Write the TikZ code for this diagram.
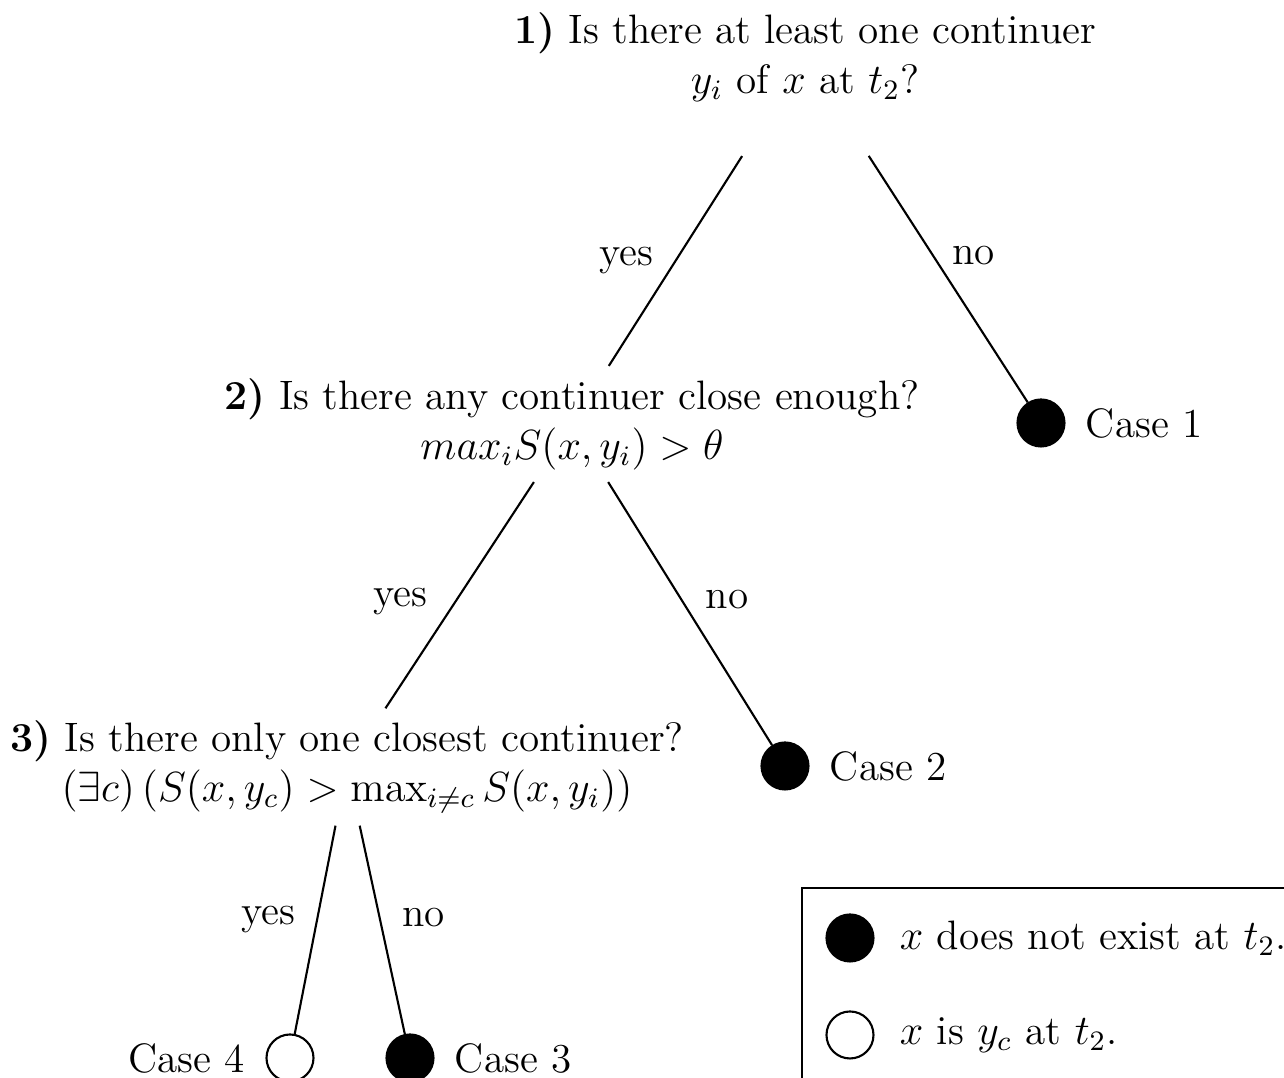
\documentclass[tikz,border=0pt]{standalone}
\usetikzlibrary{positioning, calc}
\begin{document}
\begin{tikzpicture}[
    font=\fontsize{11.7}{14.2}\selectfont,
    question/.style={align=center},
    endpt/.style={circle, draw, semithick, minimum size=0.47cm, inner sep=0pt},
    gone/.style={endpt, fill=black},
    kept/.style={endpt, fill=white},
    branch/.style={semithick},
  ]
  \clip (0,0) rectangle (12.84,10.78);
  % Questions
  \node[question] (q1) at (8.05,10.21) {\textbf{1)} Is there at least one continuer\\ $y_i$ of $x$ at $t_2$?};
  \node[question] (q2) at (5.72,6.54) {\textbf{2)} Is there any continuer close enough?\\ $max_i S(x,y_i) > \theta$};
  \node[question] (q3) at (3.47,3.11) {\textbf{3)} Is there only one closest continuer?\\ $(\exists c)\,(S(x,y_c) > \max_{i\neq c} S(x,y_i))$};
  % Cases
  \node[gone] (c1) at (10.41,6.55) {};
  \node[right=0.08cm of c1] (c1txt) {Case 1};
  \node[gone] (c2) at (7.85,3.12) {};
  \node[right=0.08cm of c2] (c2txt) {Case 2};
  \node[gone] (c3) at (4.10,0.20) {};
  \node[right=0.08cm of c3] (c3txt) {Case 3};
  \node[kept] (c4) at (2.90,0.20) {};
  \node[left=0.08cm of c4] (c4txt) {Case 4};
  % Branches
  \draw[branch, shorten <=0.5cm] (q1) -- (q2) node[pos=0.58, left=0.1cm] {yes};
  \draw[branch, shorten <=0.5cm] (q1) -- (c1) node[pos=0.49, right=0.07cm] {no};
  \draw[branch] (q2) -- (q3) node[pos=0.53, left=0.15cm] {yes};
  \draw[branch] (q2) -- (c2) node[pos=0.445, right=0.12cm] {no};
  \draw[branch] (q3) -- (c4) node[pos=0.45, left=0.09cm] {yes};
  \draw[branch] (q3) -- (c3) node[pos=0.44, right=0.1cm] {no};
  % Legend
  \draw[thick] (8.02,-0.5) rectangle (13.5,1.90);
  \node[gone] (lg1) at (8.50,1.40) {};
  \node[right=0.13cm of lg1] (lg1txt) {$x$ does not exist at $t_2$.};
  \node[kept] (lg2) at (8.50,0.43) {};
  \node[right=0.13cm of lg2] (lg2txt) {$x$ is $y_c$ at $t_2$.};
\end{tikzpicture}
\end{document}
